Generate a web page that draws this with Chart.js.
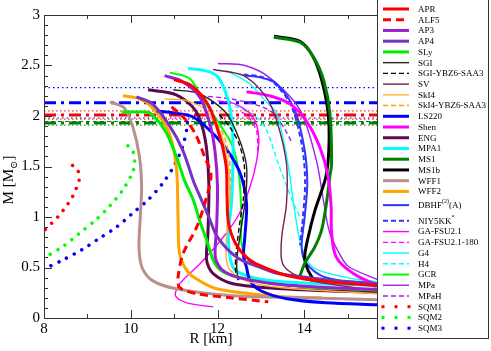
<!DOCTYPE html>
<html>
<head>
<meta charset="utf-8">
<script src="https://cdn.jsdelivr.net/npm/chart.js@4"></script>
<style>
  html, body { margin: 0; padding: 0; background: #fff; }
  #wrap { width: 491px; height: 351px; position: relative; }
</style>
</head>
<body>
<div id="wrap"><canvas id="mr" width="491" height="351"></canvas></div>
<script>
/* --- DATA: mass-radius curves, [R km, M Msun] --- */

const APR   = [[11.0,2.36],[11.4,2.3],[11.8,2.1],[12.05,1.8],[12.2,1.5],[12.22,1.2],[12.25,0.95],[12.4,0.75],[12.67,0.6],[12.97,0.52],[13.6,0.42],[14.5,0.36],[15.7,0.32]];
const ALF5  = [[10.94,2.09],[11.21,1.99],[11.48,1.83],[11.7,1.6],[11.85,1.42],[11.75,1.2],[11.52,0.9],[11.21,0.64],[11.09,0.4],[11.13,0.3],[11.52,0.24],[12.3,0.2],[13.17,0.16]];
const AP3   = [[10.78,2.4],[11.2,2.34],[11.59,2.19],[11.82,1.93],[11.94,1.66],[12.0,1.3],[11.98,0.9],[11.95,0.6],[12.1,0.48],[12.5,0.4],[13.5,0.33],[15.7,0.28]];
const AP4   = [[10.13,2.19],[10.5,2.12],[10.9,1.9],[11.2,1.66],[11.45,1.35],[11.6,1.2],[11.8,1.0],[12.0,0.8],[12.45,0.6],[13.0,0.5],[13.4,0.44],[14.5,0.38],[15.7,0.34]];
const SLy   = [[9.79,2.04],[10.2,2.04],[10.44,2.03],[10.8,1.85],[11.05,1.6],[11.25,1.35],[11.44,1.17],[11.6,0.95],[11.75,0.77],[11.94,0.54],[12.21,0.44],[13.0,0.36],[14.0,0.31],[15.0,0.29],[16.0,0.27]];
const SGI   = [[10.98,2.26],[11.59,2.22],[12.2,2.03],[12.51,1.76],[12.67,1.5],[12.65,1.2],[12.55,0.9],[12.45,0.6],[12.45,0.45],[12.5,0.38]];
const SGI_Y = [[12.05,2.01],[12.3,1.88],[12.5,1.72],[12.62,1.5],[12.6,1.2],[12.5,0.9],[12.42,0.6],[12.42,0.45],[12.48,0.37]];
const SV    = [[11.9,2.46],[12.6,2.4],[13.1,2.2],[13.36,1.96],[13.59,1.53],[13.59,1.13],[13.48,0.8],[13.48,0.57],[13.63,0.47],[14.13,0.37],[15.74,0.27]];
const Sk14  = [[10.78,2.17],[11.3,2.15],[11.75,2.05],[12.1,1.8],[12.25,1.5],[12.28,1.2],[12.22,0.9],[12.2,0.6],[12.3,0.47],[12.7,0.36],[13.5,0.3],[15.7,0.24]];
const Sk14_Y = [[11.85,1.98],[12.1,1.85],[12.25,1.65],[12.3,1.4],[12.28,1.2]];
const LS220 = [[10.6,2.05],[11.0,2.03],[11.44,1.99],[11.98,1.79],[12.32,1.6],[12.55,1.4],[12.67,1.13],[12.63,0.8],[12.6,0.62],[12.67,0.5],[12.75,0.37],[13.0,0.27],[13.6,0.19],[14.5,0.15],[15.7,0.13]];
const Shen  = [[12.67,2.24],[13.2,2.2],[13.67,2.12],[14.05,1.95],[14.36,1.69],[14.55,1.4],[14.62,1.1],[14.63,0.84],[14.74,0.6],[15.13,0.44],[15.67,0.33],[16.0,0.3]];
const ENG   = [[10.4,2.26],[11.05,2.21],[11.5,2.05],[11.72,1.76],[11.8,1.33],[11.78,0.84],[11.75,0.57],[11.9,0.44],[12.36,0.34],[13.5,0.29],[15.7,0.25]];
const MPA1  = [[11.32,2.47],[11.7,2.45],[11.98,2.4],[12.2,2.22],[12.32,1.99],[12.36,1.66],[12.32,1.13],[12.25,0.8],[12.36,0.5],[12.74,0.41],[13.5,0.36],[15.7,0.32]];
const MS1   = [[13.3,2.78],[13.9,2.73],[14.22,2.58],[14.45,2.35],[14.59,2.03],[14.63,1.53],[14.59,1.4],[14.51,1.13],[14.4,0.87],[14.24,0.7],[14.01,0.54],[13.88,0.39]];
const MS1b  = [[13.3,2.79],[13.9,2.74],[14.2,2.59],[14.4,2.36],[14.55,2.03],[14.57,1.7],[14.5,1.4],[14.25,1.07],[14.09,0.8],[14.01,0.6],[14.09,0.47],[14.2,0.39]];
const WFF1  = [[9.52,2.14],[9.85,2.08],[10.05,1.89],[10.2,1.6],[10.25,1.3],[10.22,1.0],[10.19,0.7],[10.26,0.5],[10.5,0.37],[11.05,0.29],[12.35,0.22],[14.0,0.2],[15.7,0.18]];
const WFF2  = [[9.82,2.2],[10.2,2.17],[10.48,2.09],[10.86,1.86],[11.05,1.5],[11.09,1.0],[11.12,0.65],[11.25,0.5],[11.43,0.41],[11.98,0.29],[13.5,0.21],[14.4,0.2]];
const DBHF  = [[12.63,2.4],[13.0,2.38],[13.36,2.32],[13.78,2.06],[14.01,1.66],[14.07,1.33],[14.01,1.0],[13.94,0.7],[14.05,0.54],[14.44,0.41],[15.67,0.31]];
const NIY5KK = [[12.6,2.41],[13.0,2.39],[13.3,2.33],[13.7,2.1],[13.95,1.7],[14.02,1.35],[13.97,1.0],[13.9,0.72]];
const GAFSU = [[11.9,0.11],[11.3,0.15],[11.03,0.22],[11.13,0.34],[11.6,0.54],[12.13,0.8],[12.5,1.03],[12.75,1.3],[12.9,1.55],[12.95,1.8],[12.8,2.0],[12.4,2.12],[12.0,2.15]];
const GAFSU180 = [[12.93,1.65],[12.9,1.85],[12.7,2.0],[12.5,2.05]];
const G4    = [[12.2,2.45],[12.74,2.32],[13.1,2.15],[13.36,2.03],[13.55,1.7],[13.67,1.4],[13.8,1.0],[13.94,0.7],[14.2,0.5],[15.0,0.4],[15.67,0.36]];
const H4    = [[12.4,2.1],[12.9,1.99],[13.13,1.86],[13.4,1.53],[13.6,1.3],[13.74,1.15],[13.9,1.0]];
const GCR   = [[10.9,2.43],[11.36,2.37],[11.67,2.16],[12.0,1.95],[12.35,1.7],[12.5,1.4],[12.55,1.0],[12.55,0.75],[12.7,0.58],[13.1,0.48],[14.0,0.4],[15.7,0.34]];
const MPa   = [[12.01,2.52],[12.63,2.5],[13.2,2.38],[13.9,2.06],[14.28,1.56],[14.44,1.17],[14.59,0.84],[14.9,0.57],[15.05,0.5],[15.74,0.37]];
const MPaH  = [[11.6,2.2],[12.3,2.17],[12.97,2.1],[13.28,2.03],[13.55,1.87],[13.7,1.75]];
const SQM1  = [[7.8,0.74],[8.02,0.87],[8.18,0.94],[8.36,1.02],[8.5,1.1],[8.63,1.18],[8.73,1.27],[8.81,1.37],[8.77,1.47],[8.59,1.53]];
const SQM2  = [[7.8,0.55],[8.02,0.6],[8.44,0.71],[8.82,0.84],[9.19,0.97],[9.52,1.11],[9.82,1.27],[10.05,1.45],[10.09,1.55],[10.05,1.65],[9.9,1.72]];
const SQM3  = [[7.8,0.45],[8.02,0.49],[8.46,0.58],[8.89,0.68],[9.28,0.79],[9.67,0.9],[10.05,1.04],[10.4,1.17],[10.73,1.33],[10.99,1.5],[11.19,1.69],[11.3,1.89],[11.3,1.97]];

// pulsar mass constraints (horizontal lines)
const blueBand  = [2.28, 2.13, 1.98];   // upper, central, lower
const redBand   = [2.05, 2.01, 1.97];
const greenBand = [1.945, 1.93, 1.91];
const xRange = [8, 16];

const xTicks = [8, 10, 12, 14];
const yTicks = [0, 0.5, 1, 1.5, 2, 2.5, 3];

/* --- STYLES --- */
const THICK = 3, MED = 2, THIN = 1.4;
const DASH_THICK = [8, 5], DASH_THIN = [5, 3], DOTS = [0.01, 8.6];

function curve(label, pts, color, width, dash, cap) {
    return {
        label: label,
        data: pts.map(p => ({ x: p[0], y: p[1] })),
        borderColor: color,
        borderWidth: width,
        borderDash: dash || [],
        borderCapStyle: cap || 'butt',
        pointRadius: 0,
        showLine: true,
        tension: 0.3,
        fill: false
    };
}

function hline(y, color, width, dash) {
    const ds = curve('', xRange.map(x => [x, y]), color, width, dash);
    ds.tension = 0;
    return ds;
}

const curves = [
    curve('APR', APR, '#ff0000', THICK),
    curve('ALF5', ALF5, '#ff0000', THICK, DASH_THICK),
    curve('AP3', AP3, '#9a1fd0', THICK),
    curve('AP4', AP4, '#7434c4', THICK),
    curve('SLy', SLy, '#00ee00', THICK),
    curve('SGI', SGI, '#222222', THIN),
    curve('SGI-YBZ6-SAA3', SGI_Y, '#000000', THIN, DASH_THIN),
    curve('SV', SV, '#7a1c52', THIN),
    curve('SkI4', Sk14, '#ffb030', THIN),
    curve('SkI4-YBZ6-SAA3', Sk14_Y, '#ffa500', THIN, DASH_THIN),
    curve('LS220', LS220, '#0000ff', THICK),
    curve('Shen', Shen, '#ff00ff', THICK),
    curve('ENG', ENG, '#5c0a4e', THICK),
    curve('MPA1', MPA1, '#00ffff', THICK),
    curve('MS1', MS1, '#008000', THICK),
    curve('MS1b', MS1b, '#000000', THICK),
    curve('WFF1', WFF1, '#bc8f8f', THICK),
    curve('WFF2', WFF2, '#ffa500', THICK),
    curve('DBHF', DBHF, '#3333ff', MED),
    curve('NIY5KK', NIY5KK, '#3333ff', MED, DASH_THIN),
    curve('GA-FSU2.1', GAFSU, '#ff00ff', THIN),
    curve('GA-FSU2.1-180', GAFSU180, '#ff00ff', THIN, DASH_THIN),
    curve('G4', G4, '#00ffff', THIN),
    curve('H4', H4, '#00ffff', THIN, DASH_THIN),
    curve('GCR', GCR, '#00ff00', MED),
    curve('MPa', MPa, '#a020f0', THIN),
    curve('MPaH', MPaH, '#a020f0', THIN, DASH_THIN),
    curve('SQM1', SQM1, '#ff0000', 3.5, DOTS, 'round'),
    curve('SQM2', SQM2, '#00ff00', 3.5, DOTS, 'round'),
    curve('SQM3', SQM3, '#0000ff', 3.5, DOTS, 'round')
];

const bands = [
    hline(blueBand[0], '#0000ff', 1.2, [1.5, 3]),
    hline(blueBand[1], '#0000ff', 3, [12, 5, 3, 5]),
    hline(blueBand[2], '#0000ff', 1.2, [1.5, 3]),
    hline(redBand[0], '#ff3030', 1.2, [1.5, 2.5]),
    hline(redBand[1], '#ff0000', 3, [12, 5, 3, 5]),
    hline(redBand[2], '#ff3030', 1.2, [1.5, 2.5]),
    hline(greenBand[0], '#008000', 1, [4, 3]),
    hline(greenBand[1], '#008000', 3, [12, 5, 3, 5]),
    hline(greenBand[2], '#008000', 1, [1.5, 2.5])
];

// legend labels with superscripts
const legendLabels = {
    'DBHF': ['DBHF', '(2)', '(A)'],
    'NIY5KK': ['NIY5KK', '*', '']
};

const SERIF = '"Liberation Serif", "DejaVu Serif", serif';

/* --- PLUGINS --- */
const framePlugin = {
    id: 'frame',
    afterDatasetsDraw(chart) {
        const { ctx, chartArea: a, scales: { x, y } } = chart;
        ctx.save();
        ctx.strokeStyle = '#333';
        ctx.lineWidth = 1;
        ctx.setLineDash([]);
        ctx.strokeRect(a.left + 0.5, a.top + 0.5, a.right - a.left, a.bottom - a.top);
        ctx.beginPath();
        for (let v = 8; v <= 16; v++) {
            const px = Math.round(x.getPixelForValue(v)) + 0.5;
            const len = v % 2 === 0 ? 8 : 4;
            ctx.moveTo(px, a.bottom); ctx.lineTo(px, a.bottom - len);
            ctx.moveTo(px, a.top); ctx.lineTo(px, a.top + len);
        }
        for (let i = 0; i <= 30; i++) {
            const py = Math.round(y.getPixelForValue(i / 10)) + 0.5;
            const len = i % 5 === 0 ? 8 : 4;
            ctx.moveTo(a.left, py); ctx.lineTo(a.left + len, py);
            ctx.moveTo(a.right, py); ctx.lineTo(a.right - len, py);
        }
        ctx.stroke();

        // axis titles
        ctx.fillStyle = '#000';
        ctx.font = '15px ' + SERIF;
        ctx.textAlign = 'center';
        ctx.textBaseline = 'alphabetic';
        ctx.fillText('R [km]', 211, 343);

        ctx.translate(13, 180);
        ctx.rotate(-Math.PI / 2);
        ctx.textAlign = 'left';
        const big = '15px ' + SERIF, small = '10px ' + SERIF;
        ctx.font = big;
        const w1 = ctx.measureText('M [M').width;
        const w3 = ctx.measureText(']').width;
        ctx.font = small;
        const w2 = ctx.measureText('\u2299').width;
        let cx = -(w1 + w2 + w3) / 2;
        ctx.font = big; ctx.fillText('M [M', cx, 0); cx += w1;
        ctx.font = small; ctx.fillText('\u2299', cx, 4); cx += w2;
        ctx.font = big; ctx.fillText(']', cx, 0);
        ctx.restore();
    }
};

const legendPlugin = {
    id: 'boxLegend',
    afterDraw(chart) {
        const { ctx } = chart;
        ctx.save();
        ctx.fillStyle = '#fff';
        ctx.fillRect(377, -1, 112, 340);
        ctx.strokeStyle = '#333';
        ctx.lineWidth = 1;
        ctx.setLineDash([]);
        ctx.strokeRect(377.5, -0.5, 111, 339);

        curves.forEach((ds, i) => {
            const yy = 9 + i * 10.73 + (i >= 18 ? 3 : 0) + (i >= 19 ? 5 : 0);
            ctx.strokeStyle = ds.borderColor;
            ctx.fillStyle = ds.borderColor;
            if (ds.borderCapStyle === 'round') {
                [383, 396, 409].forEach(px => {
                    ctx.fillRect(px - 1.5, yy - 1.5, 3, 3);
                });
            } else {
                ctx.lineWidth = ds.borderWidth;
                ctx.setLineDash(ds.borderDash);
                ctx.lineCap = 'butt';
                ctx.beginPath();
                ctx.moveTo(383, yy);
                ctx.lineTo(409, yy);
                ctx.stroke();
            }
            ctx.setLineDash([]);
            ctx.fillStyle = '#000';
            ctx.textBaseline = 'middle';
            ctx.textAlign = 'left';
            const parts = legendLabels[ds.label];
            if (parts) {
                ctx.font = '9px ' + SERIF;
                ctx.fillText(parts[0], 418, yy + 0.5);
                let px = 418 + ctx.measureText(parts[0]).width;
                ctx.font = '6px ' + SERIF;
                ctx.fillText(parts[1], px, yy - 3.5);
                px += ctx.measureText(parts[1]).width;
                ctx.font = '9px ' + SERIF;
                ctx.fillText(parts[2], px, yy + 0.5);
            } else {
                ctx.font = '9px ' + SERIF;
                ctx.fillText(ds.label, 418, yy + 0.5);
            }
        });
        ctx.restore();
    }
};

/* --- CHART --- */
const ctx = document.getElementById('mr').getContext('2d');

new Chart(ctx, {
    type: 'scatter',
    data: { datasets: curves.concat(bands) },
    options: {
        responsive: false,
        animation: false,
        layout: { padding: { top: 15, right: 100, left: 0, bottom: 0 } },
        plugins: {
            legend: { display: false },
            tooltip: { enabled: false }
        },
        scales: {
            x: {
                type: 'linear',
                min: xRange[0],
                max: xRange[1],
                afterFit(scale) { scale.height = 33; },
                afterBuildTicks(scale) { scale.ticks = xTicks.map(v => ({ value: v })); },
                ticks: { color: '#000', font: { family: SERIF, size: 15 }, padding: 2, callback: v => String(v) },
                grid: { display: false, drawTicks: false },
                border: { display: false }
            },
            y: {
                type: 'linear',
                min: 0,
                max: 3,
                afterFit(scale) { scale.width = 44; },
                afterBuildTicks(scale) { scale.ticks = yTicks.map(v => ({ value: v })); },
                ticks: { color: '#000', font: { family: SERIF, size: 15 }, padding: 4, callback: v => String(v) },
                grid: { display: false, drawTicks: false },
                border: { display: false }
            }
        }
    },
    plugins: [framePlugin, legendPlugin]
});
</script>
</body>
</html>
